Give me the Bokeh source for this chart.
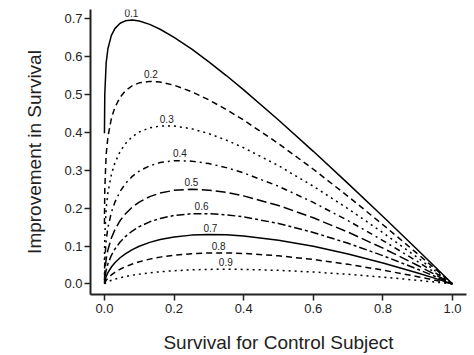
from bokeh.plotting import figure
from bokeh.models import ColumnDataSource, Range1d, FixedTicker
from bokeh.core.properties import value
from bokeh.embed import file_html
from bokeh.resources import INLINE

# Survival for control subject
surv = [0.0001, 0.001, 0.005, 0.01, 0.02, 0.03, 0.045, 0.06, 0.08, 0.1, 0.13, 0.16,
        0.2, 0.25, 0.3, 0.35, 0.4, 0.5, 0.6, 0.7, 0.8, 0.9, 0.95, 1.0]

# Improvement in survival, one series per hazard ratio
imp_01 = [0.3980, 0.5002, 0.5837, 0.6210, 0.6563, 0.6742, 0.6884, 0.6948, 0.6968, 0.6943, 0.6854, 0.6726,
          0.6513, 0.6206, 0.5866, 0.5503, 0.5124, 0.4330, 0.3502, 0.2650, 0.1779, 0.0895, 0.0449, 0.0]
imp_02 = [0.1584, 0.2502, 0.3416, 0.3881, 0.4373, 0.4659, 0.4928, 0.5097, 0.5234, 0.5310, 0.5349, 0.5331,
          0.5248, 0.5079, 0.4860, 0.4606, 0.4326, 0.3706, 0.3029, 0.2311, 0.1564, 0.0791, 0.0398, 0.0]
imp_03 = [0.0630, 0.1249, 0.1991, 0.2412, 0.2893, 0.3193, 0.3494, 0.3700, 0.3887, 0.4012, 0.4122, 0.4171,
          0.4170, 0.4098, 0.3968, 0.3798, 0.3597, 0.3123, 0.2579, 0.1985, 0.1353, 0.0689, 0.0347, 0.0]
imp_04 = [0.0250, 0.0621, 0.1151, 0.1485, 0.1891, 0.2159, 0.2443, 0.2645, 0.2841, 0.2981, 0.3122, 0.3205,
          0.3253, 0.3243, 0.3178, 0.3071, 0.2931, 0.2579, 0.2152, 0.1670, 0.1146, 0.0587, 0.0297, 0.0]
imp_05 = [0.0099, 0.0306, 0.0657, 0.0900, 0.1214, 0.1432, 0.1671, 0.1849, 0.2028, 0.2162, 0.2306, 0.2400,
          0.2472, 0.2500, 0.2477, 0.2416, 0.2325, 0.2071, 0.1746, 0.1367, 0.0944, 0.0487, 0.0247, 0.0]
imp_06 = [0.0039, 0.0148, 0.0366, 0.0531, 0.0756, 0.0920, 0.1106, 0.1249, 0.1397, 0.1512, 0.1640, 0.1730,
          0.1807, 0.1853, 0.1856, 0.1827, 0.1770, 0.1598, 0.1360, 0.1073, 0.0747, 0.0387, 0.0197, 0.0]
imp_07 = [0.0015, 0.0069, 0.0195, 0.0298, 0.0447, 0.0559, 0.0691, 0.0795, 0.0907, 0.0995, 0.1097, 0.1173,
          0.1241, 0.1289, 0.1305, 0.1296, 0.1266, 0.1156, 0.0994, 0.0791, 0.0554, 0.0289, 0.0147, 0.0]
imp_08 = [0.0005, 0.0030, 0.0094, 0.0151, 0.0237, 0.0305, 0.0387, 0.0453, 0.0526, 0.0585, 0.0655, 0.0708,
          0.0759, 0.0799, 0.0817, 0.0818, 0.0805, 0.0743, 0.0645, 0.0518, 0.0365, 0.0191, 0.0098, 0.0]
imp_09 = [0.0002, 0.0010, 0.0035, 0.0058, 0.0096, 0.0126, 0.0164, 0.0195, 0.0230, 0.0259, 0.0294, 0.0322,
          0.0349, 0.0372, 0.0384, 0.0387, 0.0384, 0.0359, 0.0315, 0.0254, 0.0181, 0.0095, 0.0049, 0.0]

hazard_labels = ["0.1", "0.2", "0.3", "0.4", "0.5", "0.6", "0.7", "0.8", "0.9"]
peak_x = [0.0774, 0.1337, 0.179, 0.217, 0.25, 0.279, 0.3045, 0.328, 0.3487]
peak_y = [0.6968, 0.535, 0.418, 0.326, 0.25, 0.186, 0.1305, 0.0819, 0.0387]

x_ticks = [0.0, 0.2, 0.4, 0.6, 0.8, 1.0]
y_ticks = [0.0, 0.1, 0.2, 0.3, 0.4, 0.5, 0.6, 0.7]

series = [imp_01, imp_02, imp_03, imp_04, imp_05, imp_06, imp_07, imp_08, imp_09]
dashes = ["solid", "6 4", "2 4", "2 4 6 4", "10 4", "3 3 8 3", "solid", "6 4", "2 4"]

FONT = "Liberation Sans"

p = figure(width=474, height=355, output_backend="svg", toolbar_location=None,
           x_range=Range1d(-0.04, 1.04), y_range=Range1d(-0.0279, 0.7247),
           min_border_left=90, min_border_right=8, min_border_top=9, min_border_bottom=61)
p.outline_line_color = None
p.grid.visible = False
p.background_fill_color = "white"
p.border_fill_color = "white"

for ys, d in zip(series, dashes):
    p.line(surv, ys, line_color="black", line_width=1.5, line_dash=d)

src = ColumnDataSource(dict(x=peak_x, y=peak_y, t=hazard_labels))
p.text("x", "y", text="t", source=src, text_align="center", text_baseline="bottom",
       y_offset=-3, text_font_size="10px", text_font=value(FONT), text_color="#222222")

for ax in (p.xaxis[0], p.yaxis[0]):
    ax.axis_line_width = 2
    ax.axis_line_color = "#222222"
    ax.major_tick_line_color = "#222222"
    ax.major_tick_line_width = 1.5
    ax.major_tick_in = 0
    ax.major_tick_out = 6
    ax.minor_tick_line_color = None
    ax.major_label_text_font = FONT
    ax.major_label_text_font_size = "13px"
    ax.major_label_text_color = "#222222"
    ax.axis_label_text_font = FONT
    ax.axis_label_text_font_size = "19px"
    ax.axis_label_text_font_style = "normal"
    ax.axis_label_text_color = "#222222"

p.xaxis.ticker = FixedTicker(ticks=x_ticks)
p.yaxis.ticker = FixedTicker(ticks=y_ticks)
p.xaxis.major_label_overrides = {t: f"{t:.1f}" for t in x_ticks}
p.yaxis.major_label_overrides = {t: f"{t:.1f}" for t in y_ticks}
p.xaxis.axis_label = "Survival for Control Subject"
p.yaxis.axis_label = "Improvement in Survival"
p.xaxis.major_label_standoff = 3
p.yaxis.major_label_standoff = 2
p.xaxis.axis_label_standoff = 16
p.yaxis.axis_label_standoff = 16

open("out.html", "w").write(file_html(p, INLINE))
